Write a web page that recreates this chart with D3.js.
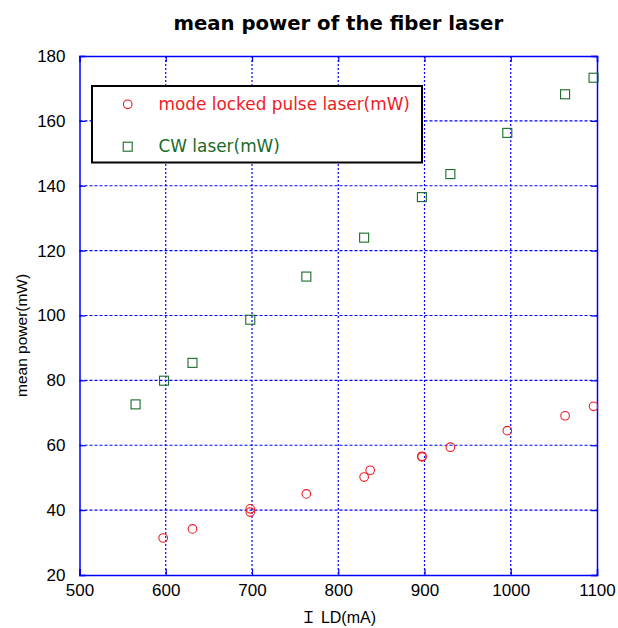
<!DOCTYPE html>
<html>
<head>
<meta charset="utf-8">
<script src="https://cdn.jsdelivr.net/npm/d3@7"></script>
<style>
  body { margin: 0; background: #fff; }
  text { font-family: "Liberation Sans", "Noto Sans CJK JP", sans-serif; }
</style>
</head>
<body>
<div id="chart"></div>
<script>
const pulseCurrent = [597, 631, 698, 698, 763, 830, 837, 897, 897, 930, 996, 1063, 1096];
const pulsePower   = [31.4, 34.2, 40.4, 39.4, 45.0, 50.2, 52.3, 56.6, 56.4, 59.4, 64.5, 69.1, 72.0];
const cwCurrent = [565, 598, 631, 698, 763, 830, 897, 930, 996, 1063, 1096];
const cwPower   = [72.6, 79.9, 85.4, 98.7, 112.0, 124.0, 136.5, 143.6, 156.3, 168.2, 173.3];
const xTicks = [500, 600, 700, 800, 900, 1000, 1100];
const yTicks = [20, 40, 60, 80, 100, 120, 140, 160, 180];
const seriesNames = ["mode locked pulse laser(mW)", "CW laser(mW)"];

const width = 618, height = 628;
const margin = { top: 56, right: 21, bottom: 53, left: 79.5 };

const svg = d3.select("#chart").append("svg")
    .attr("width", width)
    .attr("height", height);

const x = d3.scaleLinear().domain([500, 1100]).range([margin.left, width - margin.right]);
const y = d3.scaleLinear().domain([20, 180]).range([height - margin.bottom, margin.top]);

// Gitterlinien
svg.append("g").selectAll("line").data(xTicks.slice(1, -1)).join("line")
    .attr("x1", d => x(d)).attr("x2", d => x(d))
    .attr("y1", y(180)).attr("y2", y(20))
    .attr("stroke", "#0000ff").attr("stroke-width", 1.2).attr("stroke-dasharray", "2,2");
svg.append("g").selectAll("line").data(yTicks.slice(1, -1)).join("line")
    .attr("x1", x(500)).attr("x2", x(1100))
    .attr("y1", d => y(d)).attr("y2", d => y(d))
    .attr("stroke", "#0000ff").attr("stroke-width", 1.2).attr("stroke-dasharray", "3,2");

// Achsen mit Ticks nach innen
const xAxis = svg.append("g").attr("transform", `translate(0,${y(20)})`)
    .call(d3.axisBottom(x).tickValues(xTicks).tickSize(-6).tickPadding(9).tickFormat(d3.format("d")));
const xAxisTop = svg.append("g").attr("transform", `translate(0,${y(180)})`)
    .call(d3.axisTop(x).tickValues(xTicks).tickSize(-6).tickFormat(""));
const yAxis = svg.append("g").attr("transform", `translate(${x(500)},0)`)
    .call(d3.axisLeft(y).tickValues(yTicks).tickSize(-6).tickPadding(14).tickFormat(d3.format("d")));
const yAxisRight = svg.append("g").attr("transform", `translate(${x(1100)},0)`)
    .call(d3.axisRight(y).tickValues(yTicks).tickSize(-6).tickFormat(""));

[xAxis, xAxisTop, yAxis, yAxisRight].forEach(g => {
    g.select(".domain").attr("stroke", "#0000ff").attr("stroke-width", 1.5);
    g.selectAll(".tick line").attr("stroke", "#0000ff").attr("stroke-width", 1.2);
    g.selectAll(".tick text").attr("fill", "#000").style("font-size", "17px")
        .style("font-family", "'Liberation Sans', sans-serif");
});

// Messpunkte: Puls-Laser (Kreise)
svg.append("g").selectAll("circle").data(pulseCurrent).join("circle")
    .attr("cx", d => x(d))
    .attr("cy", (d, i) => y(pulsePower[i]))
    .attr("r", 4.3)
    .attr("fill", "none")
    .attr("stroke", "#ee1c24")
    .attr("stroke-width", 1.1);

// Messpunkte: CW-Laser (Quadrate)
svg.append("g").selectAll("rect").data(cwCurrent).join("rect")
    .attr("x", d => x(d) - 4.5)
    .attr("y", (d, i) => y(cwPower[i]) - 4.5)
    .attr("width", 9).attr("height", 9)
    .attr("fill", "none")
    .attr("stroke", "#1a6b2a")
    .attr("stroke-width", 1.1);

// Legende
const legend = svg.append("g");
legend.append("rect")
    .attr("x", 92).attr("y", 86).attr("width", 330).attr("height", 76.5)
    .attr("fill", "#fff").attr("stroke", "#000").attr("stroke-width", 2);
legend.append("circle").attr("cx", 127.7).attr("cy", 104.3).attr("r", 4.3)
    .attr("fill", "none").attr("stroke", "#ee1c24").attr("stroke-width", 1.1);
legend.append("rect").attr("x", 123.2).attr("y", 142.2).attr("width", 9).attr("height", 9)
    .attr("fill", "none").attr("stroke", "#1a6b2a").attr("stroke-width", 1.1);
legend.append("text").attr("x", 158.5).attr("y", 110).text(seriesNames[0])
    .attr("fill", "#ee1c24").style("font-family", "'DejaVu Sans', sans-serif").style("font-size", "16.9px");
legend.append("text").attr("x", 158.5).attr("y", 152).text(seriesNames[1])
    .attr("fill", "#1a6b2a").style("font-family", "'DejaVu Sans', sans-serif").style("font-size", "16.9px");

// Titel und Achsenbeschriftungen
svg.append("text").attr("x", (x(500) + x(1100)) / 2).attr("y", 30)
    .attr("text-anchor", "middle")
    .style("font-family", "'DejaVu Sans', sans-serif")
    .style("font-size", "19.7px").style("font-weight", "bold")
    .text("mean power of the fiber laser");
svg.append("text").attr("x", (x(500) + x(1100)) / 2).attr("y", 623)
    .attr("text-anchor", "middle").style("font-size", "16px")
    .text("Ｉ LD(mA)");
svg.append("text")
    .attr("transform", `translate(27,397) rotate(-90)`)
    .attr("text-anchor", "start").style("font-size", "15.5px")
    .text("mean power(mW)");
</script>
</body>
</html>
